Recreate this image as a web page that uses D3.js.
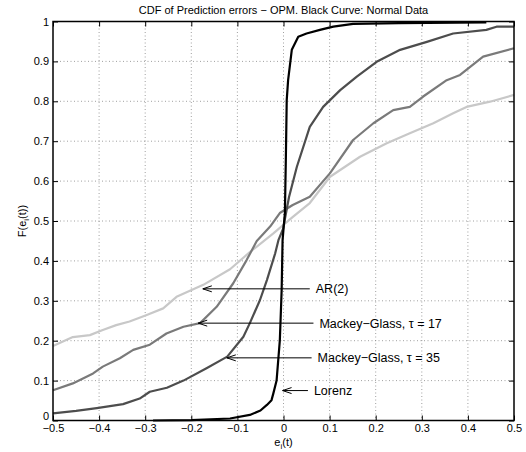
<!DOCTYPE html>
<html>
<head>
<meta charset="utf-8">
<script src="https://cdn.jsdelivr.net/npm/d3@7"></script>
<style>
  body { margin: 0; background: #fff; }
  text { font-family: "Liberation Sans", Arial, sans-serif; fill: #000; }
</style>
</head>
<body>
<svg id="svg" width="526" height="452"></svg>
<script>
// CDF curves as [error, F] pairs
const lorenz = [
  [-0.283, 0], [-0.2, 0.001], [-0.116, 0.005], [-0.073, 0.014], [-0.05, 0.025],
  [-0.036, 0.039], [-0.026, 0.051], [-0.022, 0.068], [-0.015, 0.1], [-0.008, 0.2],
  [-0.004, 0.327], [-0.002, 0.452], [0.003, 0.52], [0.005, 0.65], [0.007, 0.803],
  [0.01, 0.853], [0.018, 0.929], [0.032, 0.962], [0.05, 0.97], [0.079, 0.979],
  [0.108, 0.987], [0.151, 0.994], [0.25, 0.996], [0.44, 0.998]
];
const mg35 = [
  [-0.5, 0.018], [-0.45, 0.024], [-0.405, 0.031], [-0.348, 0.041], [-0.312, 0.055],
  [-0.29, 0.072], [-0.253, 0.082], [-0.217, 0.1], [-0.167, 0.131], [-0.122, 0.16],
  [-0.087, 0.21], [-0.073, 0.244], [-0.051, 0.302], [-0.036, 0.352], [-0.018, 0.419],
  [-0.011, 0.452], [-0.001, 0.48], [0.012, 0.56], [0.029, 0.636], [0.057, 0.736],
  [0.086, 0.786], [0.123, 0.828], [0.159, 0.862], [0.202, 0.899], [0.253, 0.929],
  [0.311, 0.949], [0.368, 0.97], [0.44, 0.979], [0.462, 0.987], [0.5, 0.987]
];
const mg17 = [
  [-0.5, 0.076], [-0.457, 0.093], [-0.413, 0.118], [-0.392, 0.135], [-0.355, 0.156],
  [-0.326, 0.177], [-0.29, 0.19], [-0.254, 0.218], [-0.217, 0.235], [-0.181, 0.244],
  [-0.145, 0.285], [-0.109, 0.344], [-0.08, 0.402], [-0.058, 0.45], [-0.029, 0.486],
  [-0.008, 0.52], [0.02, 0.54], [0.057, 0.561], [0.101, 0.62], [0.151, 0.703],
  [0.195, 0.745], [0.238, 0.778], [0.274, 0.786], [0.303, 0.812], [0.354, 0.853],
  [0.383, 0.866], [0.433, 0.912], [0.5, 0.933]
];
const ar2 = [
  [-0.5, 0.187], [-0.457, 0.209], [-0.42, 0.214], [-0.392, 0.227], [-0.363, 0.239],
  [-0.334, 0.248], [-0.298, 0.264], [-0.261, 0.281], [-0.232, 0.31], [-0.174, 0.34],
  [-0.116, 0.379], [-0.073, 0.422], [-0.022, 0.469], [0.021, 0.511], [0.057, 0.545],
  [0.101, 0.611], [0.166, 0.661], [0.224, 0.695], [0.274, 0.72], [0.325, 0.745],
  [0.368, 0.77], [0.397, 0.786], [0.448, 0.799], [0.5, 0.816]
];

const seriesData = [ar2, mg17, mg35, lorenz];
const seriesColors = ["#c8c8c8", "#7a7a7a", "#4d4d4d", "#000000"];

// Annotations: label text, arrow tip [error, F], label start (error units)
const annLabels = ["AR(2)", "Mackey\u2212Glass, \u03c4 = 17", "Mackey\u2212Glass, \u03c4 = 35", "Lorenz"];
const annTips = [[-0.175, 0.33], [-0.185, 0.244], [-0.123, 0.157], [-0.002, 0.075]];
const annTextX = [0.07, 0.078, 0.074, 0.066];

const xTicks = d3.range(-0.5, 0.51, 0.1).map(v => Math.round(v * 10) / 10);
const yTicks = d3.range(0, 1.01, 0.1).map(v => Math.round(v * 10) / 10);

const attr = { left: 53, right: 514, top: 21.5, bottom: 420.5 };

const svg = d3.select("svg#svg");

const x = d3.scaleLinear().domain([-0.5, 0.5]).range([attr.left, attr.right]);
const y = d3.scaleLinear().domain([0, 1]).range([attr.bottom, attr.top]);

// MATLAB style labels: 0, 1, 0.1 ... and a real minus sign
const fmt = function(v) {
  let s = (v === 0 || Math.abs(v) === 1) ? String(v) : d3.format(".1f")(v);
  return s.replace("-", "\u2212");
}

// grid
const grid = svg.append("g");
grid.selectAll("line.vg")
  .data(xTicks.slice(1, -1))
  .enter().append("line")
  .attr("x1", d => x(d)).attr("x2", d => x(d))
  .attr("y1", attr.top).attr("y2", attr.bottom)
  .attr("stroke", "#888").attr("stroke-width", 0.8)
  .attr("stroke-dasharray", "1,2.5");
grid.selectAll("line.hg")
  .data(yTicks.slice(1, -1))
  .enter().append("line")
  .attr("y1", d => y(d)).attr("y2", d => y(d))
  .attr("x1", attr.left).attr("x2", attr.right)
  .attr("stroke", "#888").attr("stroke-width", 0.8)
  .attr("stroke-dasharray", "1,2.5");

// curves
const line = d3.line().x(d => x(d[0])).y(d => y(d[1]));
svg.append("g").selectAll("path")
  .data(seriesData)
  .enter().append("path")
  .attr("d", line)
  .attr("fill", "none")
  .attr("stroke", (d, i) => seriesColors[i])
  .attr("stroke-width", 2.2)
  .attr("stroke-linejoin", "round");

// axes with inward ticks on all four sides
const tl = 5;
svg.append("g").attr("transform", `translate(0,${attr.bottom})`)
  .call(d3.axisBottom(x).tickValues(xTicks).tickSize(-tl).tickPadding(4).tickFormat(fmt));
svg.append("g").attr("transform", `translate(0,${attr.top})`)
  .call(d3.axisTop(x).tickValues(xTicks).tickSize(-tl).tickFormat(""));
const yAxis = svg.append("g").attr("transform", `translate(${attr.left},0)`)
  .call(d3.axisLeft(y).tickValues(yTicks).tickSize(-tl).tickPadding(4).tickFormat(fmt));
svg.append("g").attr("transform", `translate(${attr.right},0)`)
  .call(d3.axisRight(y).tickValues(yTicks).tickSize(-tl).tickFormat(""));

svg.selectAll(".domain").remove();
svg.selectAll(".tick line").attr("stroke", "#000").attr("stroke-width", 1);
svg.selectAll(".tick text").style("font-size", "11px").attr("fill", "#000")
  .style("font-family", "'Liberation Sans', Arial, sans-serif");

// lift the bottom "0" so it clears "−0.5", as in the original
yAxis.selectAll(".tick text").filter(d => d === 0).attr("dy", "-0.12em");

// frame
svg.append("rect")
  .attr("x", attr.left).attr("y", attr.top)
  .attr("width", attr.right - attr.left).attr("height", attr.bottom - attr.top)
  .attr("fill", "none").attr("stroke", "#000").attr("stroke-width", 1.5);

// annotations
const ann = svg.append("g");
annLabels.forEach(function(label, i) {
  let tx = x(annTips[i][0]), ty = y(annTips[i][1]);
  let lx = x(annTextX[i]);
  ann.append("line")
    .attr("x1", tx).attr("x2", lx - 6).attr("y1", ty).attr("y2", ty)
    .attr("stroke", "#000").attr("stroke-width", 1);
  ann.append("path")
    .attr("d", `M${tx + 9},${ty - 3}L${tx},${ty}L${tx + 9},${ty + 3}`)
    .attr("fill", "none").attr("stroke", "#000").attr("stroke-width", 1);
  ann.append("text")
    .attr("x", lx).attr("y", ty).attr("dy", "0.36em")
    .style("font-size", "12.5px")
    .text(label);
});

// title and axis labels
svg.append("text")
  .attr("x", (attr.left + attr.right) / 2).attr("y", 14)
  .attr("text-anchor", "middle").style("font-size", "11px")
  .text("CDF of Prediction errors \u2212 OPM. Black Curve: Normal Data");

const xl = svg.append("text")
  .attr("x", (attr.left + attr.right) / 2).attr("y", 446)
  .attr("text-anchor", "middle").style("font-size", "11px");
xl.append("tspan").text("e");
xl.append("tspan").attr("dy", 3).style("font-size", "8px").text("i");
xl.append("tspan").attr("dy", -3).text("(t)");

const yl = svg.append("text")
  .attr("transform", `translate(26,${(attr.top + attr.bottom) / 2}) rotate(-90)`)
  .attr("text-anchor", "middle").style("font-size", "11px");
yl.append("tspan").text("F(e");
yl.append("tspan").attr("dy", 3).style("font-size", "8px").text("i");
yl.append("tspan").attr("dy", -3).text("(t))");
</script>
</body>
</html>
